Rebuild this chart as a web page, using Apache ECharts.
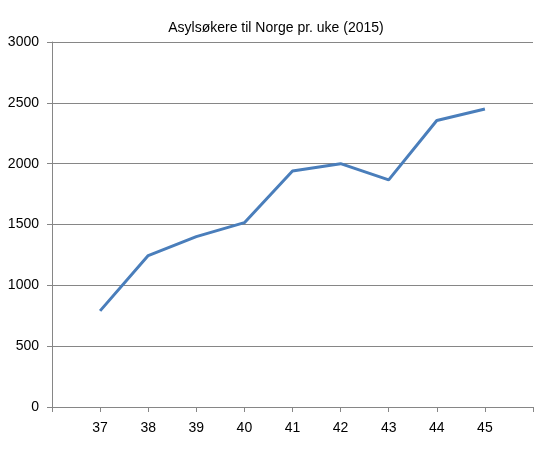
<!DOCTYPE html>
<html>
<head>
<meta charset="utf-8">
<script src="https://cdn.jsdelivr.net/npm/echarts@6/dist/echarts.min.js"></script>
<style>
html,body{margin:0;padding:0;background:#fff;}
#chart{width:560px;height:450px;}
</style>
</head>
<body>
<div id="chart"></div>
<script>
const titleText = 'Asylsøkere til Norge pr. uke (2015)';
const weeks = [37, 38, 39, 40, 41, 42, 43, 44, 45];
const asylumSeekers = [790, 1245, 1400, 1515, 1940, 2000, 1867, 2355, 2450];
const yTicks = [0, 500, 1000, 1500, 2000, 2500, 3000];

const chart = echarts.init(document.getElementById('chart'), null, {renderer: 'canvas'});
const fontFamily = '"Liberation Sans", Arial, sans-serif';
chart.setOption({
  animation: false,
  backgroundColor: '#ffffff',
  title: {
    text: titleText,
    left: 271,
    textAlign: 'center',
    top: 16,
    textStyle: {fontFamily: fontFamily, fontSize: 14, fontWeight: 'normal', color: '#000'}
  },
  grid: {left: 52, right: 27, top: 42, bottom: 43, containLabel: false},
  xAxis: {
    type: 'value',
    min: weeks[0] - 1,
    max: weeks[weeks.length - 1] + 1,
    interval: 1,
    axisLine: {show: true, lineStyle: {color: '#868686', width: 1}},
    axisTick: {show: true, length: 5, lineStyle: {color: '#868686'}},
    splitLine: {show: false},
    axisLabel: {
      margin: 14,
      fontFamily: fontFamily, fontSize: 14, color: '#000',
      formatter: function (v) { return weeks.indexOf(v) >= 0 ? String(v) : ''; }
    }
  },
  yAxis: {
    type: 'value',
    min: yTicks[0],
    max: yTicks[yTicks.length - 1],
    interval: 500,
    axisLine: {show: true, lineStyle: {color: '#868686', width: 1}},
    axisTick: {show: true, length: 5, lineStyle: {color: '#868686'}},
    splitLine: {show: true, lineStyle: {color: '#868686', width: 1}},
    axisLabel: {
      margin: 13, fontFamily: fontFamily, fontSize: 14, color: '#000',
      formatter: function (v) { return String(v); }
    }
  },
  series: [{
    type: 'line',
    data: weeks.map((w, i) => [w, asylumSeekers[i]]),
    symbol: 'none',
    lineStyle: {color: '#4a7ebb', width: 3},
    itemStyle: {color: '#4a7ebb'}
  }]
});
</script>
</body>
</html>
